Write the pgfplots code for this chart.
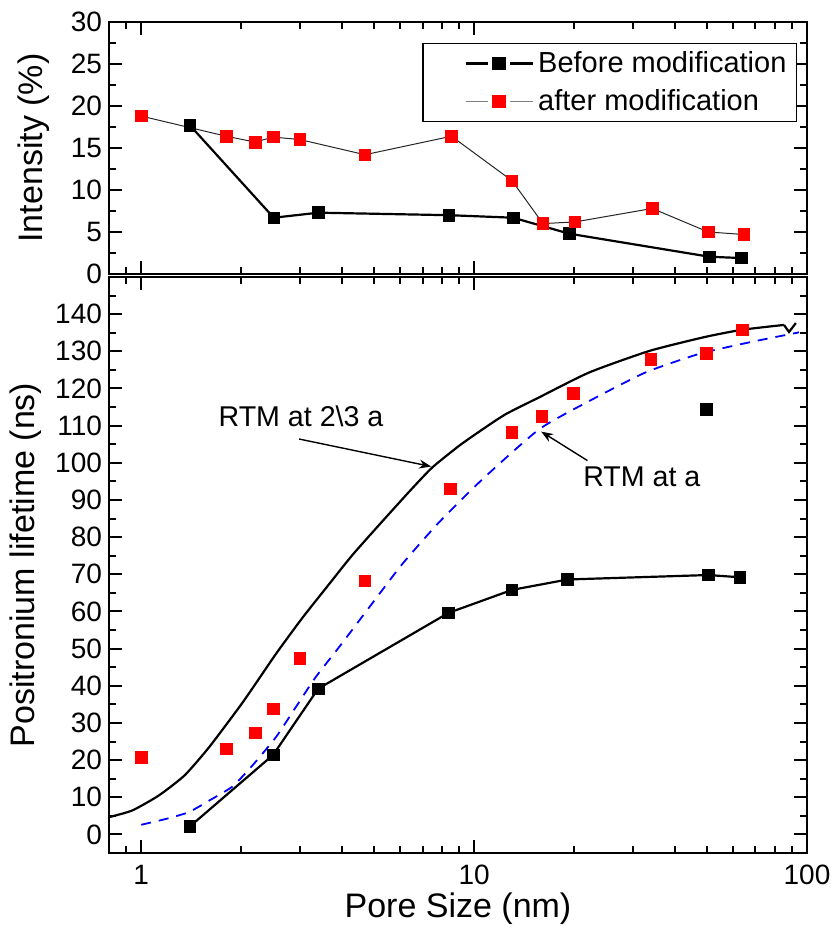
\documentclass[border=0pt]{standalone}
\usepackage{fontspec}
\setmainfont{Liberation Sans}
\usepackage{pgfplots}
\pgfplotsset{compat=1.18}
\usetikzlibrary{arrows.meta}
\pgfplotsset{
  every axis/.append style={
    axis line style={line width=1.1bp},
    every tick/.style={black, line width=1bp},
    major tick length=6.5bp, minor tick length=3.5bp,
    tick label style={font=\fontsize{14bp}{16bp}\selectfont},
    label style={font=\fontsize{17bp}{20bp}\selectfont},
  }
}
\begin{document}
\begin{tikzpicture}
\path[use as bounding box] (-54.5bp,-36.5bp) rectangle (362.5bp,426.5bp);
% ---------------- top panel ----------------
\begin{axis}[xmode=log, xmin=0.8, xmax=100, width=349bp, scale only axis,
  /pgf/number format/assume math mode=true,
  xtick={1,10,100}, minor xtick={0.9,2,3,4,5,6,7,8,9,20,30,40,50,60,70,80,90},
  at={(0,289.5bp)}, anchor=south west, height=126bp,
  ymin=0, ymax=30, ytick={0,5,...,30}, minor ytick={2.5,7.5,...,27.5},
  xticklabels={},
  ylabel={Intensity (\%)},
  ylabel style={at={(axis description cs:-0.1075,0.5)}, anchor=center},
  legend style={at={(0.9857,0.9167)}, anchor=north east, draw=black, line width=0.6bp,
    font=\fontsize{14.5bp}{17bp}\selectfont, row sep=3bp},
  legend cell align=left]
\addplot[black, line width=1.1bp,
  legend image code/.code={\path (-18bp,0bp);
  \draw[black,line width=1.1bp] (0bp,0bp)--(10.8bp,0bp) (22.1bp,0bp)--(33.5bp,0bp);
  \fill[black] (13.3bp,-2.9bp) rectangle (19.6bp,2.9bp);}]
  coordinates {(1.40,17.7)(2.50,6.7)(3.41,7.3)(8.41,7.0)(13.1,6.7)(19.3,4.8)(51.0,2.05)(63.5,1.9)};
\addlegendentry{Before modification}
\addplot[black!85, line width=0.5bp,
  legend image code/.code={\path (-18bp,0bp);
  \draw[black!50,line width=0.7bp] (0bp,0bp)--(10.8bp,0bp) (22.1bp,0bp)--(33.5bp,0bp);
  \fill[red] (13.3bp,-2.9bp) rectangle (19.6bp,2.9bp);}]
  coordinates {(1.0,18.8)(1.80,16.4)(2.20,15.7)(2.49,16.3)(3.0,16.0)(4.70,14.2)(8.55,16.4)(13.0,11.1)(16.1,6.0)(20.1,6.2)(34.3,7.8)(50.5,5.0)(64.7,4.7)};
\addlegendentry{after modification}
\addplot[only marks, mark=square*, mark size=2.9bp, mark options={black, fill=black}, forget plot] coordinates {(1.40,17.7)(2.50,6.7)(3.41,7.3)(8.41,7.0)(13.1,6.7)(19.3,4.8)(51.0,2.05)(63.5,1.9)};
\addplot[only marks, mark=square*, mark size=2.9bp, mark options={red, fill=red}, forget plot] coordinates {(1.0,18.8)(1.80,16.4)(2.20,15.7)(2.49,16.3)(3.0,16.0)(4.70,14.2)(8.55,16.4)(13.0,11.1)(16.1,6.0)(20.1,6.2)(34.3,7.8)(50.5,5.0)(64.7,4.7)};
\end{axis}
% ---------------- bottom panel ----------------
\begin{axis}[xmode=log, xmin=0.8, xmax=100, width=349bp, scale only axis,
  /pgf/number format/assume math mode=true,
  xtick={1,10,100}, minor xtick={0.9,2,3,4,5,6,7,8,9,20,30,40,50,60,70,80,90},
  at={(0,0)}, anchor=south west, height=288bp,
  ymin=-5, ymax=150, ytick={0,10,...,140}, minor ytick={5,15,...,145},
  xticklabels={1,10,100},
  xticklabel style={yshift=-2.5bp},
  xlabel={Pore Size (nm)},
  xlabel style={at={(axis description cs:0.5,-0.1128)}, anchor=base},
  ylabel={Positronium lifetime (ns)},
  ylabel style={at={(axis description cs:-0.119,0.5)}, anchor=center}]
% RTM at 2/3 a
\addplot[black, line width=1.1bp, smooth, tension=0.35] coordinates {(0.8,4.65)(0.94,6.45)(1.13,10.5)(1.35,15.9)(1.60,23.5)(2.02,35.6)(2.54,48.6)(3.05,58.3)(3.59,66.3)(4.31,75.2)(5.43,85.3)(6.53,93.2)(7.50,98.8)(9.02,104.6)(10.6,109.0)(12.45,113.1)(15.67,117.6)(22.15,124.3)(33.6,130.1)(49.6,133.9)(63.9,135.8)(85.3,137.1)};
\addplot[black, line width=1.1bp] coordinates {(85.3,137.1)(88.3,135.2)(92.6,137.6)};
% RTM at a
\addplot[blue, line width=0.9bp, dash pattern=on 5bp off 4bp, smooth, tension=0.35] coordinates {(1.0,2.6)(1.19,4.2)(1.39,6.0)(1.60,9.1)(1.88,12.9)(2.16,18.6)(2.54,26.2)(2.91,34.2)(3.34,42.3)(3.93,50.4)(4.84,61.1)(6.09,72.8)(7.85,84.0)(10.6,95.6)(15.67,109.0)(22.15,116.6)(32.7,124.3)(47.4,129.3)(67.0,132.4)(94.6,135.1)};
% before modification
\addplot[black, line width=1.1bp] coordinates {(1.40,2.15)(2.49,21.4)(3.40,39.2)(8.37,59.6)(13.0,65.8)(19.1,68.6)(50.5,69.8)(62.8,69.2)};
\addplot[only marks, mark=square*, mark size=2.9bp, mark options={black, fill=black}] coordinates {(1.40,2.15)(2.49,21.4)(3.40,39.2)(8.37,59.6)(13.0,65.8)(19.1,68.6)(50.5,69.8)(62.8,69.2)(49.9,114.3)};
% after modification
\addplot[only marks, mark=square*, mark size=2.9bp, mark options={red, fill=red}] coordinates {(1.0,20.8)(1.80,23.0)(2.20,27.3)(2.49,33.8)(3.0,47.4)(4.70,68.2)(8.47,93.0)(13.0,108.2)(16.0,112.5)(19.9,118.7)(34.0,127.8)(49.9,129.4)(63.9,135.8)};
% annotations
\node[anchor=base, font=\fontsize{14.3bp}{17bp}\selectfont] at (axis cs:3.02,109.8) {RTM at 2\textbackslash 3 a};
\draw[line width=0.7bp, -{Stealth[length=6bp,width=4.5bp]}] (axis cs:2.98,106.4) -- (axis cs:7.43,99.0);
\node[anchor=base, font=\fontsize{14.3bp}{17bp}\selectfont] at (axis cs:31.9,93.6) {RTM at a};
\draw[line width=0.7bp, -{Stealth[length=6bp,width=4.5bp]}] (axis cs:21.9,100.6) -- (axis cs:15.9,108.4);
\end{axis}
\end{tikzpicture}
\end{document}
